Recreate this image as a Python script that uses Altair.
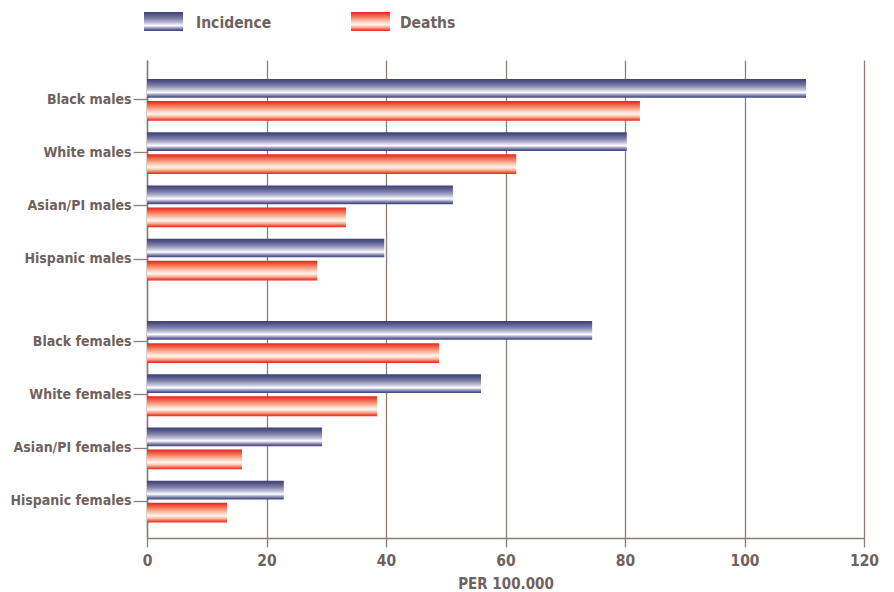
import json
import altair as alt
import pandas as pd

# ---------------- data ----------------
categories = ["Black males", "White males", "Asian/PI males", "Hispanic males",
              "Black females", "White females", "Asian/PI females", "Hispanic females"]
incidence = [110.3, 80.3, 51.2, 39.7, 74.5, 55.9, 29.3, 22.9]
deaths = [82.5, 61.8, 33.3, 28.5, 48.9, 38.5, 15.9, 13.4]
x_ticks = [0, 20, 40, 60, 80, 100, 120]
legend_labels = ["Incidence", "Deaths"]
x_title = "PER 100.000"

# ---------------- layout / style ----------------
GAP = 0.55            # extra space between the male and female groups (in rows)
FONT = "DejaVu Sans Condensed"
TEXT = "#6f625e"
GRID = "#8c7f7a"

pos = [i + (GAP if i >= 4 else 0) for i in range(len(categories))]
df = pd.DataFrame({"category": categories, "incidence": incidence,
                   "deaths": deaths, "pos": pos})
df["zero"] = 0
df["inc_top"] = df["pos"] - 0.376
df["inc_bot"] = df["pos"] - 0.024
df["dth_top"] = df["pos"] + 0.038
df["dth_bot"] = df["pos"] + 0.41

inc_grad = alt.LinearGradient(
    gradient="linear", x1=0, x2=0, y1=0, y2=1,
    stops=[alt.GradientStop(offset=0.0, color="#3d3f76"),
           alt.GradientStop(offset=0.15, color="#55578a"),
           alt.GradientStop(offset=0.35, color="#7f81aa"),
           alt.GradientStop(offset=0.55, color="#bcbdd6"),
           alt.GradientStop(offset=0.72, color="#ffffff"),
           alt.GradientStop(offset=0.82, color="#a9aac8"),
           alt.GradientStop(offset=0.92, color="#62649a"),
           alt.GradientStop(offset=1.0, color="#3f4178")])
dth_grad = alt.LinearGradient(
    gradient="linear", x1=0, x2=0, y1=0, y2=1,
    stops=[alt.GradientStop(offset=0.0, color="#e8201b"),
           alt.GradientStop(offset=0.15, color="#f0553d"),
           alt.GradientStop(offset=0.35, color="#f79a7c"),
           alt.GradientStop(offset=0.55, color="#fcd9c8"),
           alt.GradientStop(offset=0.66, color="#fff5ef"),
           alt.GradientStop(offset=0.8, color="#f9b69c"),
           alt.GradientStop(offset=0.92, color="#f0573f"),
           alt.GradientStop(offset=1.0, color="#e8261d")])

label_expr = f"{json.dumps(categories)}[datum.value < 4 ? round(datum.value) : round(datum.value - {GAP})]"

xscale = alt.Scale(domain=[0, 120], nice=False, zero=False)
yscale = alt.Scale(domain=[-0.733, 8.25], reverse=True, nice=False, zero=False)

xaxis = alt.Axis(values=x_ticks, grid=True, gridColor=GRID, gridWidth=1.3,
                 domainColor=GRID, domainWidth=1.3, tickColor=GRID, tickWidth=1.3,
                 tickSize=9, labelFont=FONT, labelFontSize=15.5, labelFontWeight="bold",
                 labelColor=TEXT, labelPadding=6, labelFlush=False,
                 title=x_title, titleFont=FONT, titleFontSize=15,
                 titleFontWeight="bold", titleColor=TEXT, titlePadding=8)
yaxis = alt.Axis(values=pos, grid=False, labelExpr=label_expr,
                 domainColor=GRID, domainWidth=1.5, tickColor=GRID, tickWidth=1.3,
                 tickSize=14, labelFont=FONT, labelFontSize=14, labelFontWeight="bold",
                 labelColor=TEXT, labelPadding=2, title=None)

inc_bars = alt.Chart(df).mark_rect(fill=inc_grad).encode(
    x=alt.X("incidence:Q", scale=xscale, axis=xaxis),
    x2="zero",
    y=alt.Y("inc_top:Q", scale=yscale, axis=yaxis),
    y2="inc_bot",
)
dth_bars = alt.Chart(df).mark_rect(fill=dth_grad).encode(
    x=alt.X("deaths:Q", scale=xscale, axis=xaxis),
    x2="zero",
    y=alt.Y("dth_top:Q", scale=yscale, axis=yaxis),
    y2="dth_bot",
)

leg_df = pd.DataFrame({"label": legend_labels})
leg_inc_sw = alt.Chart(leg_df.iloc[[0]]).mark_rect(fill=inc_grad).encode(
    x=alt.value(-3), x2=alt.value(36), y=alt.value(-48), y2=alt.value(-29))
leg_dth_sw = alt.Chart(leg_df.iloc[[1]]).mark_rect(fill=dth_grad).encode(
    x=alt.value(204), x2=alt.value(243), y=alt.value(-48), y2=alt.value(-29))
txt_style = dict(align="left", baseline="alphabetic", font=FONT, fontSize=15.5,
                 fontWeight="bold", color=TEXT)
leg_inc_tx = alt.Chart(leg_df.iloc[[0]]).mark_text(**txt_style).encode(
    x=alt.value(49), y=alt.value(-32), text="label:N")
leg_dth_tx = alt.Chart(leg_df.iloc[[1]]).mark_text(**txt_style).encode(
    x=alt.value(253), y=alt.value(-32), text="label:N")

chart = alt.layer(inc_bars, dth_bars, leg_inc_sw, leg_dth_sw, leg_inc_tx, leg_dth_tx).properties(
    width=717, height=478,
    autosize=alt.AutoSizeParams(type="none"),
    padding={"left": 139, "top": 52, "right": 22, "bottom": 60},
    view=alt.ViewBackground(stroke=None, fill="white"),
).configure_view(stroke=None).configure(background="white")

chart.save("out.html", embed_options={"renderer": "svg", "actions": False})
